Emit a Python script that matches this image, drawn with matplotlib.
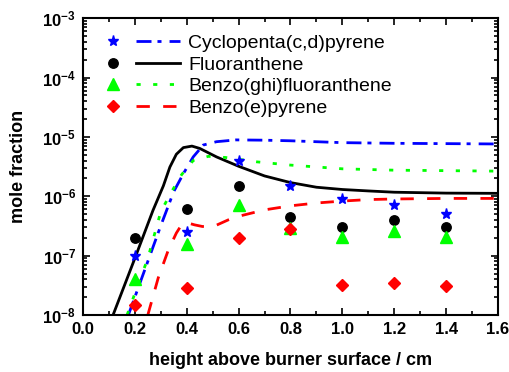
import matplotlib
matplotlib.use("Agg")
import matplotlib.pyplot as plt
from matplotlib.legend_handler import HandlerTuple
from matplotlib.ticker import LogLocator, MultipleLocator, NullFormatter

plt.rcParams['font.family'] = ['Liberation Sans', 'DejaVu Sans']
plt.rcParams['mathtext.fontset'] = 'custom'
plt.rcParams['mathtext.rm'] = 'Liberation Sans:bold'
plt.rcParams['mathtext.bf'] = 'Liberation Sans:bold'
plt.rcParams['mathtext.it'] = 'Liberation Sans:bold'
plt.rcParams['lines.scale_dashes'] = False

# measured points (height / cm, mole fraction)
exp_x = [0.2, 0.4, 0.6, 0.8, 1.0, 1.2, 1.4]
cyc_exp = [1.0e-7, 2.5e-7, 4.0e-6, 1.5e-6, 9.0e-7, 7.0e-7, 5.1e-7]
flu_exp = [2.0e-7, 6.0e-7, 1.5e-6, 4.5e-7, 3.0e-7, 4.0e-7, 3.0e-7]
bgf_exp = [4.0e-8, 1.55e-7, 7.2e-7, 2.9e-7, 2.1e-7, 2.6e-7, 2.1e-7]
bep_exp = [1.5e-8, 2.9e-8, 2.0e-7, 2.8e-7, 3.2e-8, 3.5e-8, 3.1e-8]

# model curves
cyc_x = [0.175, 0.2, 0.25, 0.3, 0.35, 0.387, 0.425, 0.464, 0.515, 0.59, 0.7, 0.8,
         1.0, 1.2, 1.4, 1.6]
cyc_y = [1e-8, 2e-8, 8e-8, 3.2e-7, 1.2e-6, 2.4e-6, 4.6e-6, 7.3e-6, 8.3e-6, 8.9e-6,
         8.8e-6, 8.6e-6, 8.0e-6, 7.8e-6, 7.7e-6, 7.6e-6]
flu_x = [0.116, 0.2, 0.27, 0.31, 0.335, 0.36, 0.387, 0.42, 0.45, 0.515, 0.6, 0.7,
         0.8, 0.9, 1.0, 1.1, 1.2, 1.4, 1.6]
flu_y = [1e-8, 9e-8, 5.8e-7, 1.5e-6, 3.1e-6, 5.1e-6, 6.6e-6, 7.0e-6, 6.4e-6, 4.6e-6,
         3.2e-6, 2.2e-6, 1.7e-6, 1.42e-6, 1.3e-6, 1.23e-6, 1.17e-6, 1.13e-6, 1.12e-6]
bgf_x = [0.17, 0.2, 0.25, 0.3, 0.342, 0.38, 0.425, 0.483, 0.55, 0.67, 0.8, 1.0,
         1.2, 1.4, 1.6]
bgf_y = [1e-8, 2.3e-8, 9e-8, 5.5e-7, 1.2e-6, 2.3e-6, 4.0e-6, 4.7e-6, 4.5e-6, 3.8e-6,
         3.35e-6, 2.9e-6, 2.75e-6, 2.7e-6, 2.65e-6]
bep_x = [0.25, 0.29, 0.329, 0.36, 0.38, 0.40, 0.43, 0.46, 0.5, 0.56, 0.6, 0.7, 0.8,
         0.9, 1.0, 1.1, 1.2, 1.4, 1.6]
bep_y = [1e-8, 4.2e-8, 1.24e-7, 2.4e-7, 3.3e-7, 3.6e-7, 3.3e-7, 3.1e-7, 3.05e-7,
         4.0e-7, 4.6e-7, 5.9e-7, 6.9e-7, 7.7e-7, 8.3e-7, 8.8e-7, 9.0e-7, 9.2e-7, 9.2e-7]

labels = ['Cyclopenta(c,d)pyrene', 'Fluoranthene', 'Benzo(ghi)fluoranthene', 'Benzo(e)pyrene']

fig = plt.figure(figsize=(5.1, 3.72), dpi=100)
ax = fig.add_axes([0.1627, 0.1532, 0.8137, 0.798])

lw = 2.0
l_cyc, = ax.plot(cyc_x, cyc_y, color='#0000ff', lw=lw, dashes=(10.8, 4.3, 2.9, 5.8))
l_flu, = ax.plot(flu_x, flu_y, color='black', lw=lw)
l_bgf, = ax.plot(bgf_x, bgf_y, color='#00ff00', lw=lw, dashes=(3, 9))
l_bep, = ax.plot(bep_x, bep_y, color='#ff0000', lw=lw, dashes=(9.6, 9.6))

m_cyc, = ax.plot(exp_x, cyc_exp, ls='none', marker='*', ms=8, color='#0000ff')
m_flu, = ax.plot(exp_x, flu_exp, ls='none', marker='o', ms=6.8, color='black')
m_bgf, = ax.plot(exp_x, bgf_exp, ls='none', marker='^', ms=8.4, color='#00ff00')
m_bep, = ax.plot(exp_x, bep_exp, ls='none', marker='D', ms=6.2, color='#ff0000')

ax.set_yscale('log')
ax.set_xlim(0.0, 1.6)
ax.set_ylim(1e-8, 1e-3)

ax.xaxis.set_minor_locator(MultipleLocator(0.1))
ax.yaxis.set_minor_locator(LogLocator(base=10, subs=range(2, 10)))
ax.yaxis.set_minor_formatter(NullFormatter())

ax.set_xticks([0.0, 0.2, 0.4, 0.6, 0.8, 1.0, 1.2, 1.4, 1.6])
ax.set_xticklabels(['0.0', '0.2', '0.4', '0.6', '0.8', '1.0', '1.2', '1.4', '1.6'],
                   fontsize=12, fontweight='bold')
yt = [1e-8, 1e-7, 1e-6, 1e-5, 1e-4, 1e-3]
ax.set_yticks(yt)
ax.set_yticklabels([r'$\mathbf{10^{-%d}}$' % e for e in [8, 7, 6, 5, 4, 3]], fontsize=12)

ax.tick_params(which='both', direction='in', top=True, right=True, width=1.2)
ax.tick_params(which='major', length=5, pad=5)
ax.tick_params(which='minor', length=3)
for s in ax.spines.values():
    s.set_linewidth(1.5)

ax.set_xlabel('height above burner surface / cm', fontsize=13, fontweight='bold', labelpad=11)
ax.set_ylabel('mole fraction', fontsize=13, fontweight='bold', labelpad=11)

handles = [(m_cyc, l_cyc), (m_flu, l_flu), (m_bgf, l_bgf), (m_bep, l_bep)]
ax.legend(handles, labels, handler_map={tuple: HandlerTuple(ndivide=None, pad=0)},
          loc='upper left', bbox_to_anchor=(0.02, 0.945), borderaxespad=0, borderpad=0,
          frameon=False, fontsize=14, handlelength=4.55, handletextpad=0.45,
          labelspacing=0.2, numpoints=1)

fig.savefig('out.png', dpi=100)
